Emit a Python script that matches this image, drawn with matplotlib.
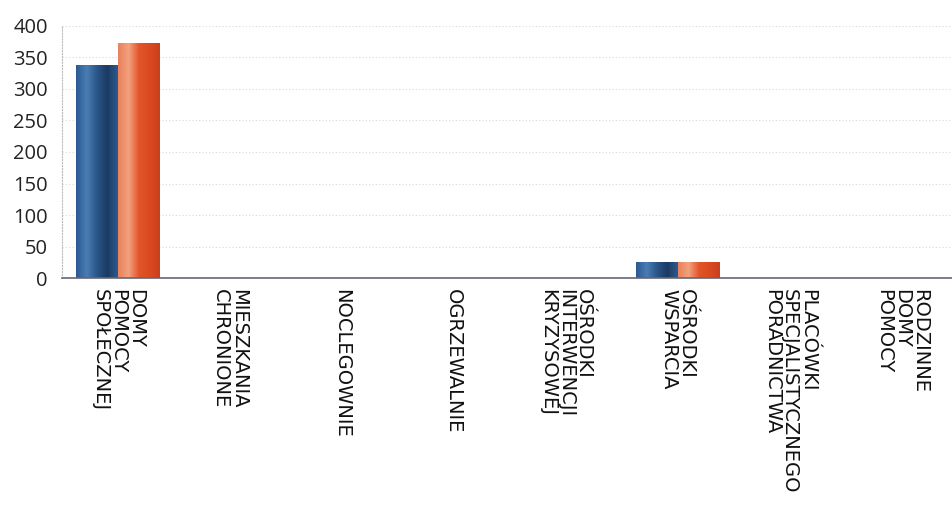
import matplotlib.pyplot as plt
import numpy as np
from matplotlib.colors import LinearSegmentedColormap

categories = ["DOMY\nPOMOCY\nSPOŁECZNEJ", "MIESZKANIA\nCHRONIONE", "NOCLEGOWNIE",
              "OGRZEWALNIE", "OŚRODKI\nINTERWENCJI\nKRYZYSOWEJ", "OŚRODKI\nWSPARCIA",
              "PLACÓWKI\nSPECJALISTYCZNEGO\nPORADNICTWA", "RODZINNE\nDOMY\nPOMOCY"]
series_a = [338, 0, 0, 0, 0, 25, 0, 0]
series_b = [373, 0, 0, 0, 0, 26, 0, 0]
yticks = [0, 50, 100, 150, 200, 250, 300, 350, 400]

plt.rcParams['font.family'] = ['Open Sans', 'DejaVu Sans']

fig = plt.figure(figsize=(9.52, 5.16), dpi=100)
ax = fig.add_axes([0.065, 0.461, 0.941, 0.489])

x = np.arange(len(categories))
w = 0.375
blue_cm = LinearSegmentedColormap.from_list("b", ["#2c5a92", "#4a7db5", "#2a5688", "#1b3a63", "#2b5a8c"])
orange_cm = LinearSegmentedColormap.from_list("o", ["#e9825c", "#f2a27e", "#e2552b", "#dc4a22", "#c9401d"])
grad = np.linspace(0, 1, 64).reshape(1, -1)

bars_a = ax.bar(x - w / 2, series_a, w, color="#265b8c", zorder=3)
bars_b = ax.bar(x + w / 2, series_b, w, color="#e2532b", zorder=3)
# gradient fill on the bars
for bars, cm in [(bars_a, blue_cm), (bars_b, orange_cm)]:
    for b in bars:
        h = b.get_height()
        if h <= 0:
            continue
        im = ax.imshow(grad, cmap=cm, aspect="auto", zorder=4,
                       extent=[b.get_x(), b.get_x() + b.get_width(), 0, h])
        im.set_clip_path(b)

ax.set_xlim(-0.5, len(categories) - 0.5)
ax.set_ylim(0, 400)
ax.set_yticks(yticks)
ax.yaxis.grid(True, color="#d8d8d8", linestyle=(0, (1, 2)), linewidth=0.8, zorder=0)
ax.set_xticks(x)
ax.set_xticklabels(categories, rotation=-90, ha="center", va="top",
                   fontsize=14, linespacing=0.93, family=['DejaVu Sans'])
for t in ax.get_xticklabels():
    t.set_multialignment("left")
ax.tick_params(axis="y", length=0, labelsize=14.5, pad=10, colors="#222222")
ax.tick_params(axis="x", length=0, pad=8, colors="#111111")

for s in ["top", "right"]:
    ax.spines[s].set_visible(False)
ax.spines["left"].set_color("#bbbbbb")
ax.spines["left"].set_linestyle(":")
ax.spines["bottom"].set_color("#666677")
ax.spines["bottom"].set_linewidth(1.2)
ax.spines["bottom"].set_zorder(5)

fig.savefig("out.png", dpi=100)
